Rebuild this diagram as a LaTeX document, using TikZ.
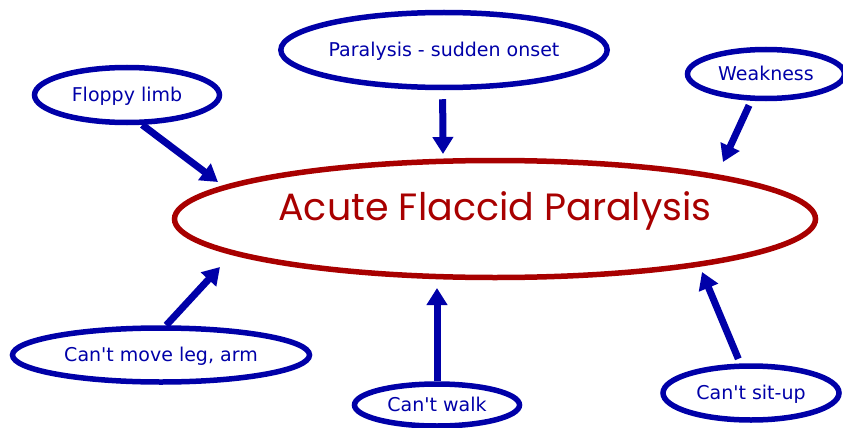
\documentclass[tikz,border=0pt]{standalone}
\usepackage{fontspec}
\setmainfont{DejaVu Sans}
\newfontfamily\titlefont{Poppins}
\usetikzlibrary{arrows.meta, shapes.geometric}

\begin{document}
\begin{tikzpicture}[
    x=1pt, y=-1pt,
    every node/.style={font=\fontsize{19}{22}\selectfont},
]

% ---------------------------------------------------------------- colours
\definecolor{c1}{HTML}{0000A8}   % the signs
\definecolor{c2}{HTML}{A80000}   % the condition itself

\tikzset{
    sign/.style={ellipse, draw=c1, line width=5.5pt, inner sep=0pt,
                 text=c1, text height=13pt, text depth=0pt},
    cond/.style={ellipse, draw=c2, line width=5.5pt, inner sep=0pt,
                 text=c2, text height=27pt, text depth=25pt,
                 font=\titlefont\fontsize{38}{42}\selectfont},
    push/.style={-{Triangle[length=17pt, width=20pt]}, draw=c1,
                 line width=7pt},
}

\useasboundingbox (0,0) rectangle (843,428);

% ================================================================
% one big ellipse in the middle, six signs round it
%   pixel grid, y runs downwards
% ================================================================

\node[cond, minimum width=641pt, minimum height=117pt] (afp)
    at (495,219) {Acute Flaccid Paralysis};

% ---------------------------------------------------------------- signs
\node[sign, minimum width=317pt, minimum height=75pt] (para)
    at (444,50) {Paralysis - sudden onset};
\node[sign, minimum width=185pt, minimum height=55pt] (floppy)
    at (127,95) {Floppy limb};
\node[sign, minimum width=157pt, minimum height=49pt] (weak)
    at (766,74) {Weakness};
\node[sign, minimum width=297pt, minimum height=54pt] (move)
    at (161,355) {Can\textquotesingle t move leg, arm};
\node[sign, minimum width=165pt, minimum height=42pt] (walk)
    at (437,405) {Can\textquotesingle t walk};
\node[sign, minimum width=176pt, minimum height=54pt] (situp)
    at (751,393) {Can\textquotesingle t sit-up};

% ---------------------------------------------------------------- arrows
% the tips stop just short of the big ellipse
\coordinate (floppy-tip) at (218,182);
\coordinate (para-tip)   at (443,154);
\coordinate (weak-tip)   at (723,162);
\coordinate (move-tip)   at (220,267);
\coordinate (walk-tip)   at (437,288);
\coordinate (situp-tip)  at (702,272);

\foreach \src/\ang/\gap in {floppy/-63/0pt, para/-92/9pt, weak/-119/5pt,
                            move/80/0pt, walk/90/0pt, situp/110/5pt}
    \draw[push, shorten <=\gap] (\src.\ang) -- (\src-tip);

\end{tikzpicture}
\end{document}
